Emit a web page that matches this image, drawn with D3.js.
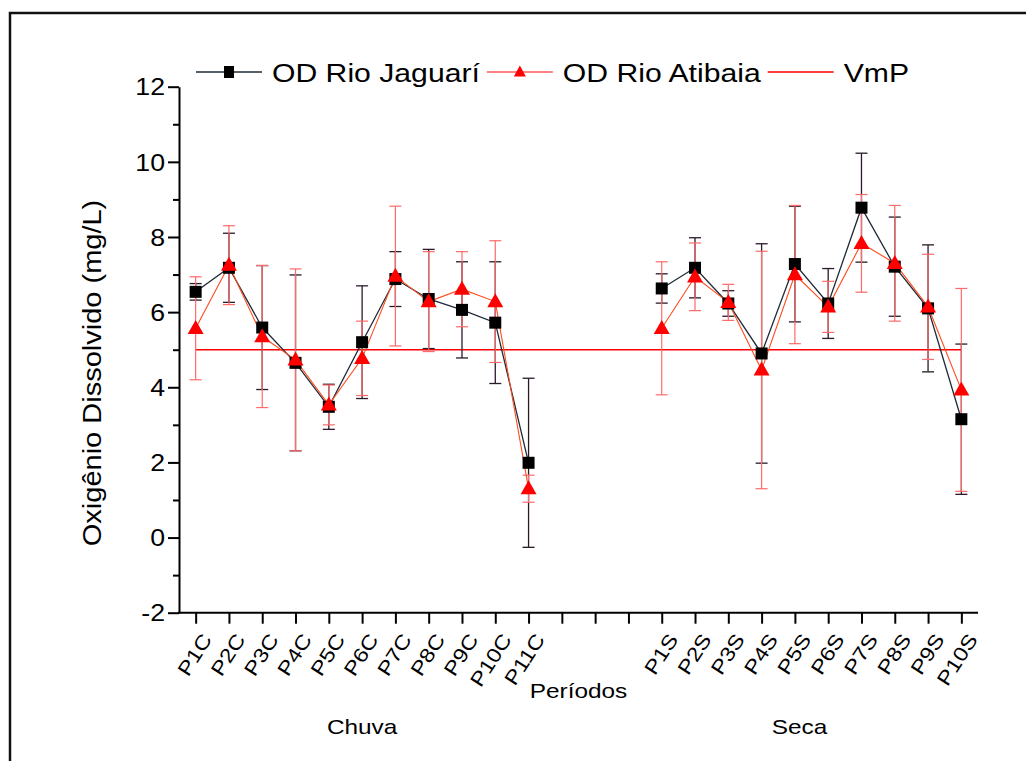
<!DOCTYPE html>
<html>
<head>
<meta charset="utf-8">
<script src="https://cdn.jsdelivr.net/npm/d3@7"></script>
<style>
  html, body { margin: 0; padding: 0; background: #fff; }
  svg { display: block; }
  text { font-family: "Liberation Sans", Arial, sans-serif; fill: #000; }
</style>
</head>
<body>
<svg id="chart" width="1026" height="761"></svg>
<script>
// Sampling points, rainy season (Chuva) and dry season (Seca)
const chuvaCats = ["P1C", "P2C", "P3C", "P4C", "P5C", "P6C", "P7C", "P8C", "P9C", "P10C", "P11C"];
const secaCats = ["P1S", "P2S", "P3S", "P4S", "P5S", "P6S", "P7S", "P8S", "P9S", "P10S"];
const gapSlots = ["_g1", "_g2", "_g3"];

// Dissolved oxygen (mg/L), mean and standard deviation
const jaguariChuva = [6.54, 7.18, 5.59, 4.65, 3.48, 5.20, 6.88, 6.35, 6.06, 5.72, 1.99];
const jaguariChuvaSd = [0.22, 0.92, 1.65, 2.34, 0.60, 1.50, 0.73, 1.32, 1.28, 1.62, 2.25];
const atibaiaChuva = [5.57, 7.25, 5.35, 4.73, 3.53, 4.77, 6.96, 6.28, 6.61, 6.28, 1.30];
const atibaiaChuvaSd = [1.37, 1.05, 1.89, 2.42, 0.53, 0.99, 1.86, 1.33, 1.00, 1.62, 0.36];

const jaguariSeca = [6.63, 7.18, 6.23, 4.90, 7.28, 6.23, 8.78, 7.21, 6.10, 3.15];
const jaguariSecaSd = [0.39, 0.80, 0.34, 2.92, 1.54, 0.93, 1.45, 1.32, 1.69, 2.00];
const atibaiaSeca = [5.57, 6.94, 6.26, 4.46, 7.00, 6.14, 7.83, 7.30, 6.14, 3.93];
const atibaiaSecaSd = [1.77, 0.90, 0.48, 3.16, 1.84, 0.68, 1.30, 1.54, 1.40, 2.70];

// Reference value (VmP)
const vmp = 5;

const yMajorTicks = [-2, 0, 2, 4, 6, 8, 10, 12];
const yMinorTicks = [-1, 1, 3, 5, 7, 9, 11];

const legendLabels = ["OD Rio Jaguarí", "OD Rio Atibaia", "VmP"];
const xTitle = "Períodos";
const yTitle = "Oxigênio Dissolvido (mg/L)";
const seasonLabels = ["Chuva", "Seca"];

// ---------------------------------------------------------------
const svg = d3.select("#chart");
const STRETCH = 1.16;          // wide letterforms of the original typeface

const plot = { left: 179, right: 978, top: 86.7, bottom: 612.7 };
const slots = [...chuvaCats, ...gapSlots, ...secaCats];

const x = d3.scalePoint().domain(slots).range([plot.left, plot.right]).padding(0.5);
const y = d3.scaleLinear().domain([-2, 12]).range([plot.bottom, plot.top]);

const COL_JAG_LINE = "#1f2a36";
const COL_JAG_ERR = "#2a1a2a";
const COL_ATI_LINE = "#ff4a1c";
const COL_ATI_ERR = "#ff6a6a";
const COL_RED = "#ff0000";

// stretch text along its baseline; returns the resulting length
function widen(sel, k = STRETCH) {
  let last = 0;
  sel.each(function () {
    const w = this.getComputedTextLength();
    last = w * k;
    this.setAttribute("textLength", last);
    this.setAttribute("lengthAdjust", "spacingAndGlyphs");
  });
  return last;
}

// outer frame
svg.append("rect")
  .attr("x", 10).attr("y", 13)
  .attr("width", 1040).attr("height", 780)
  .attr("fill", "none").attr("stroke", "#111").attr("stroke-width", 2.5);

// ---- axes ----
const yAxis = svg.append("g")
  .attr("transform", `translate(${plot.left},0)`)
  .call(d3.axisLeft(y).tickValues(yMajorTicks).tickSize(11).tickSizeOuter(0).tickPadding(3)
    .tickFormat(d => d < 0 ? "-" + Math.abs(d) : d));
yAxis.select(".domain").attr("stroke", "#000").attr("stroke-width", 2);
yAxis.selectAll(".tick line").attr("stroke", "#000").attr("stroke-width", 2);
yAxis.selectAll(".tick text")
  .style("font-size", "23px").attr("fill", "#000").attr("dy", "0.36em");
widen(yAxis.selectAll(".tick text"));

const yMinor = svg.append("g")
  .attr("transform", `translate(${plot.left},0)`)
  .call(d3.axisLeft(y).tickValues(yMinorTicks).tickSize(6).tickSizeOuter(0).tickFormat(""));
yMinor.select(".domain").remove();
yMinor.selectAll(".tick line").attr("stroke", "#000").attr("stroke-width", 2);

const xAxis = svg.append("g")
  .attr("transform", `translate(0,${plot.bottom})`)
  .call(d3.axisBottom(x).tickSize(11).tickSizeOuter(0).tickFormat(""));
xAxis.select(".domain").attr("stroke", "#000").attr("stroke-width", 2)
  .attr("d", `M${plot.left - 1},0H${plot.right}`);
xAxis.selectAll(".tick line").attr("stroke", "#000").attr("stroke-width", 2);

// rotated category labels
const catLabels = svg.append("g").selectAll("text")
  .data([...chuvaCats, ...secaCats])
  .join("text")
  .attr("transform", d => `translate(${x(d) + 5},${plot.bottom + 19}) rotate(-57)`)
  .attr("text-anchor", "end")
  .attr("dy", "0.72em")
  .style("font-size", "20px")
  .text(d => d);
widen(catLabels);

// axis titles
const yt = svg.append("text")
  .attr("transform", `translate(101,373) rotate(-90)`)
  .attr("text-anchor", "middle")
  .style("font-size", "25px")
  .text(yTitle);
widen(yt);

const xt = svg.append("text")
  .attr("x", (plot.left + plot.right) / 2).attr("y", 698)
  .attr("text-anchor", "middle")
  .style("font-size", "21px")
  .text(xTitle);
widen(xt);

const chuvaMid = (x(chuvaCats[0]) + x(chuvaCats[chuvaCats.length - 1])) / 2;
const secaMid = (x(secaCats[0]) + x(secaCats[secaCats.length - 1])) / 2 - 12;
const st = svg.append("g").selectAll("text")
  .data([[seasonLabels[0], chuvaMid], [seasonLabels[1], secaMid]])
  .join("text")
  .attr("x", d => d[1]).attr("y", 734)
  .attr("text-anchor", "middle")
  .style("font-size", "21px")
  .text(d => d[0]);
widen(st);

// ---- data ----
const groups = [
  { cats: chuvaCats, jag: jaguariChuva, jagSd: jaguariChuvaSd, ati: atibaiaChuva, atiSd: atibaiaChuvaSd },
  { cats: secaCats, jag: jaguariSeca, jagSd: jaguariSecaSd, ati: atibaiaSeca, atiSd: atibaiaSecaSd }
];
const toPts = (cats, vals, sds) => cats.map((c, i) => ({ c, v: vals[i], sd: sds[i] }));
const jagPts = groups.map(g => toPts(g.cats, g.jag, g.jagSd));
const atiPts = groups.map(g => toPts(g.cats, g.ati, g.atiSd));

// VmP reference line
svg.append("line")
  .attr("x1", x(chuvaCats[0])).attr("x2", x(secaCats[secaCats.length - 1]))
  .attr("y1", y(vmp)).attr("y2", y(vmp))
  .attr("stroke", COL_RED).attr("stroke-width", 1.6);

function errorBars(pts, color, width) {
  const g = svg.append("g").attr("stroke", color).attr("stroke-width", width);
  const cap = 6;
  pts.flat().forEach(p => {
    const cx = x(p.c), y1 = y(p.v + p.sd), y0 = y(p.v - p.sd);
    g.append("line").attr("x1", cx).attr("x2", cx).attr("y1", y1).attr("y2", y0);
    g.append("line").attr("x1", cx - cap).attr("x2", cx + cap).attr("y1", y1).attr("y2", y1);
    g.append("line").attr("x1", cx - cap).attr("x2", cx + cap).attr("y1", y0).attr("y2", y0);
  });
}
errorBars(jagPts, COL_JAG_ERR, 1.3);
errorBars(atiPts, COL_ATI_ERR, 1.2);

const line = d3.line().x(d => x(d.c)).y(d => y(d.v));
svg.append("g").selectAll("path").data(jagPts).join("path")
  .attr("d", line).attr("fill", "none").attr("stroke", COL_JAG_LINE).attr("stroke-width", 1.3);
svg.append("g").selectAll("path").data(atiPts).join("path")
  .attr("d", line).attr("fill", "none").attr("stroke", COL_ATI_LINE).attr("stroke-width", 1.1);

const sq = 12;
svg.append("g").selectAll("rect").data(jagPts.flat()).join("rect")
  .attr("x", d => x(d.c) - sq / 2).attr("y", d => y(d.v) - sq / 2)
  .attr("width", sq).attr("height", sq).attr("fill", "#000");

const triPath = (w, h) => `M0,${-h * 0.6}L${w / 2},${h * 0.4}L${-w / 2},${h * 0.4}Z`;
svg.append("g").selectAll("path").data(atiPts.flat()).join("path")
  .attr("transform", d => `translate(${x(d.c)},${y(d.v)})`)
  .attr("d", triPath(16, 14)).attr("fill", COL_RED);

// ---- legend ----
const leg = svg.append("g");
const legY = 72, legBase = 82;
let lx = 196;
const itemSpec = [
  { label: legendLabels[0], stroke: COL_JAG_LINE, mark: "square" },
  { label: legendLabels[1], stroke: "#ff5a5a", mark: "tri" },
  { label: legendLabels[2], stroke: COL_RED, mark: "none" }
];
itemSpec.forEach(it => {
  const len = 66;
  leg.append("line").attr("x1", lx).attr("x2", lx + len).attr("y1", legY).attr("y2", legY)
    .attr("stroke", it.stroke).attr("stroke-width", it.mark === "none" ? 1.6 : 1.3);
  if (it.mark === "square") {
    leg.append("rect").attr("x", lx + len / 2 - 5).attr("y", legY - 6)
      .attr("width", 10).attr("height", 12).attr("fill", "#000");
  } else if (it.mark === "tri") {
    leg.append("path").attr("transform", `translate(${lx + len / 2},${legY})`)
      .attr("d", triPath(12, 11)).attr("fill", COL_RED);
  }
  const t = leg.append("text").attr("x", lx + len + 10).attr("y", legBase)
    .style("font-size", "26px").text(it.label);
  const w = widen(t);
  lx = lx + len + 10 + w + 7;
});
</script>
</body>
</html>
